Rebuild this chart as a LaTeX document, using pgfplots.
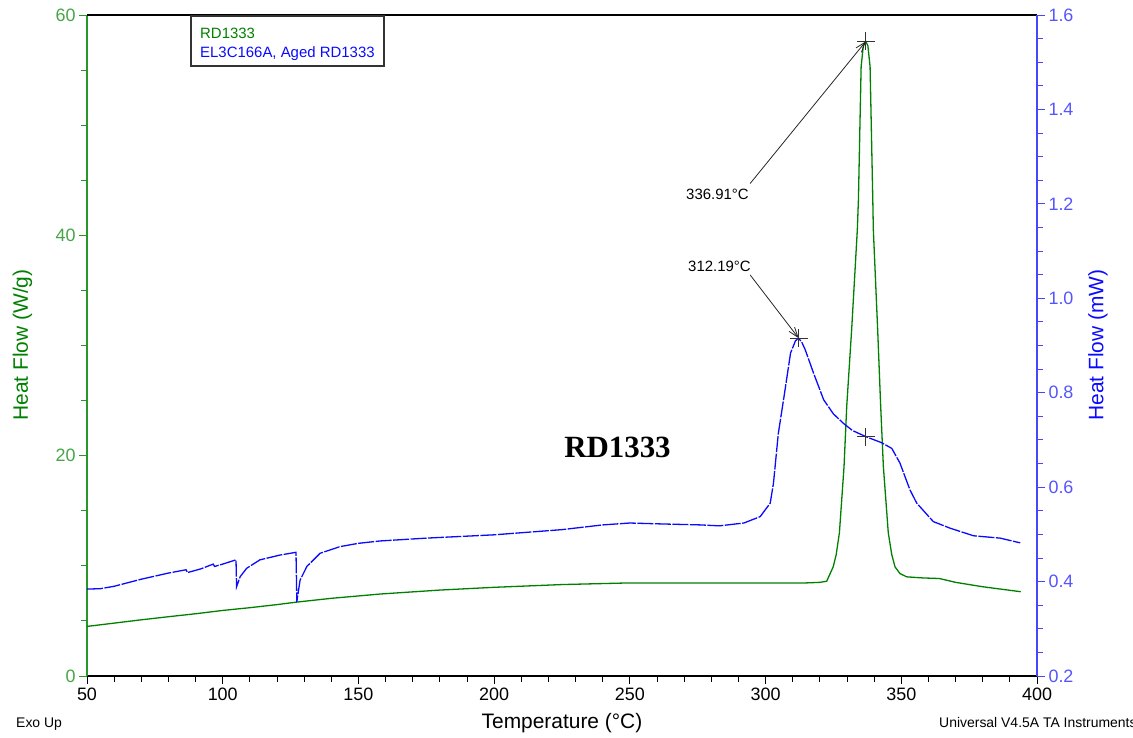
\documentclass[border=0pt]{standalone}
\usepackage{pgfplots}
\pgfplotsset{compat=1.18}
\usepackage{fontspec}
\setmainfont{Liberation Sans}
\newfontfamily\serifface{Liberation Serif}
\usetikzlibrary{arrows.meta}

\definecolor{flowgreen}{RGB}{0,128,0}
\definecolor{axisgreen}{RGB}{40,150,40}
\definecolor{tickgreen}{RGB}{70,165,70}
\definecolor{flowblue}{RGB}{10,10,255}
\definecolor{axisblue}{RGB}{70,70,255}
\definecolor{tickblue}{RGB}{85,85,255}

% RD1333, heat flow normalised by mass (W/g)
\pgfplotstableread{
T     Q
50    4.50
60    4.80
70    5.10
80    5.38
90    5.65
100   5.95
110   6.20
120   6.48
127   6.70
140   7.05
158   7.44
180   7.80
200   8.05
225   8.30
250   8.45
280   8.45
300   8.45
315   8.45
320   8.50
322.5 8.60
324.9 9.90
326   11.0
327.2 13.0
328.9 19.0
329.9 24.5
331.7 31.4
333.8 40.5
334.2 43.2
335.2 55.3
336.0 57.2
336.91 57.6
337.7 57.2
338.5 55.3
339.5 43.2
339.7 40.5
341.3 31.4
342.4 24.5
343.4 19.0
345.2 13.0
346.5 11.0
347.7 9.9
349.5 9.3
352   9.0
358   8.9
364   8.85
370   8.50
380   8.10
394   7.65
}\greentable

% EL3C166A, aged RD1333, heat flow (mW)
\pgfplotstableread{
T     Q
50    0.384
55    0.385
60    0.390
70    0.405
80    0.418
86.5  0.425
87    0.419
92    0.427
96.5  0.437
97    0.432
100   0.437
104.9 0.446
105.1 0.389
106.4 0.410
108.8 0.428
113.7 0.446
121   0.456
127   0.462
127.3 0.357
128.5 0.403
131   0.432
135.9 0.460
143.2 0.474
150   0.481
158   0.486
175   0.492
200   0.499
225   0.510
240   0.520
250   0.524
262   0.522
276   0.520
283   0.518
292   0.524
298   0.5375
301.7 0.566
302.9 0.608
304.7 0.714
306.8 0.792
309.2 0.884
311   0.910
312.19 0.9155
313.5 0.905
314.6 0.891
317.7 0.841
321.4 0.785
325   0.755
328.7 0.735
332   0.720
336.91 0.707
342.8 0.694
346.5 0.682
349.5 0.651
353.2 0.594
355.7 0.566
361.8 0.527
368   0.513
376.6 0.497
386.4 0.492
393.8 0.482
}\bluetable

\begin{document}
\begin{tikzpicture}[x=1bp,y=1bp]
\useasboundingbox (0,0) rectangle (1133,738);

% left axis: W/g
\begin{axis}[
  at={(87bp,62bp)}, anchor=south west,
  scale only axis, width=950bp, height=661bp,
  xmin=50, xmax=400, ymin=0, ymax=60,
  axis x line*=bottom, axis y line*=left,
  x axis line style={black, line width=1.3bp, -},
  y axis line style={axisgreen, line width=1.3bp, -},
  xtick={50,100,...,400}, minor x tick num=4,
  ytick={0,20,40,60}, minor y tick num=3,
  tick align=outside,
  major tick length=8bp, minor tick length=6bp,
  xtick style={black, line width=0.9bp},
  ytick style={axisgreen, line width=0.9bp},
  /pgf/number format/assume math mode=true,
  xticklabel style={font=\fontsize{18}{18}\selectfont, black},
  yticklabel style={font=\fontsize{18}{18}\selectfont, tickgreen},
]
\draw[black, line width=1.3bp] (rel axis cs:0,1) -- (rel axis cs:1,1);
\addplot[flowgreen, line width=1.3bp, no marks] table[x=T, y=Q] {\greentable};
\addplot[only marks, mark=+, mark size=9bp, black!80, mark options={line width=0.9bp}]
  coordinates {(336.91,57.6)};
\draw[black!85, line width=0.8bp, -{Straight Barb[length=10bp,width=7bp]}]
  (axis cs:294.3,44.7) -- (axis cs:336.91,57.6);
\end{axis}

% right axis: mW
\begin{axis}[
  at={(87bp,62bp)}, anchor=south west,
  scale only axis, width=950bp, height=661bp,
  xmin=50, xmax=400, ymin=0.2, ymax=1.6,
  axis x line=none, axis y line*=right,
  y axis line style={axisblue, line width=1.3bp, -},
  ytick={0.2,0.4,0.6,0.8,1.0,1.2,1.4,1.6}, minor y tick num=3,
  tick align=outside,
  major tick length=8bp, minor tick length=6bp,
  ytick style={axisblue, line width=0.9bp},
  /pgf/number format/assume math mode=true,
  yticklabel style={font=\fontsize{18}{18}\selectfont, tickblue,
    /pgf/number format/.cd, fixed, fixed zerofill, precision=1},
]
\addplot[flowblue, line width=1.3bp, no marks, dash pattern=on 16bp off 1.5bp]
  table[x=T, y=Q] {\bluetable};
\addplot[only marks, mark=+, mark size=9bp, black!80, mark options={line width=0.9bp}]
  coordinates {(312.19,0.9155) (336.91,0.707)};
\draw[black!85, line width=0.8bp, -{Straight Barb[length=10bp,width=7bp]}]
  (axis cs:294.3,1.0496) -- (axis cs:312.19,0.9155);
\end{axis}

% annotations and captions
\node[anchor=base west, font=\fontsize{15}{15}\selectfont, inner sep=0] at (686,538) {336.91°C};
\node[anchor=base west, font=\fontsize{15}{15}\selectfont, inner sep=0] at (688,466) {312.19°C};

\draw[black!80, line width=1.3bp] (191,722) rectangle (384,672);
\node[anchor=base west, font=\fontsize{15}{15}\selectfont, text=flowgreen, inner sep=0] at (200,699) {RD1333};
\node[anchor=base west, font=\fontsize{15}{15}\selectfont, text=flowblue, inner sep=0] at (200,680) {EL3C166A, Aged RD1333};

\node[anchor=base, font=\serifface\bfseries\fontsize{31}{31}\selectfont, inner sep=0] at (617.5,280) {RD1333};

\node[font=\fontsize{21}{21}\selectfont, text=flowgreen, rotate=90] at (22.5,393) {Heat Flow (W/g)};
\node[font=\fontsize{21}{21}\selectfont, text=flowblue, rotate=90] at (1098,393) {Heat Flow (mW)};
\node[anchor=base, font=\fontsize{21}{21}\selectfont, inner sep=0] at (562,9) {Temperature (°C)};

\node[anchor=base west, font=\fontsize{14}{14}\selectfont, inner sep=0] at (16,10) {Exo Up};
\node[anchor=base west, font=\fontsize{14}{14}\selectfont, inner sep=0] at (939,10) {Universal V4.5A TA Instruments};
\end{tikzpicture}
\end{document}
